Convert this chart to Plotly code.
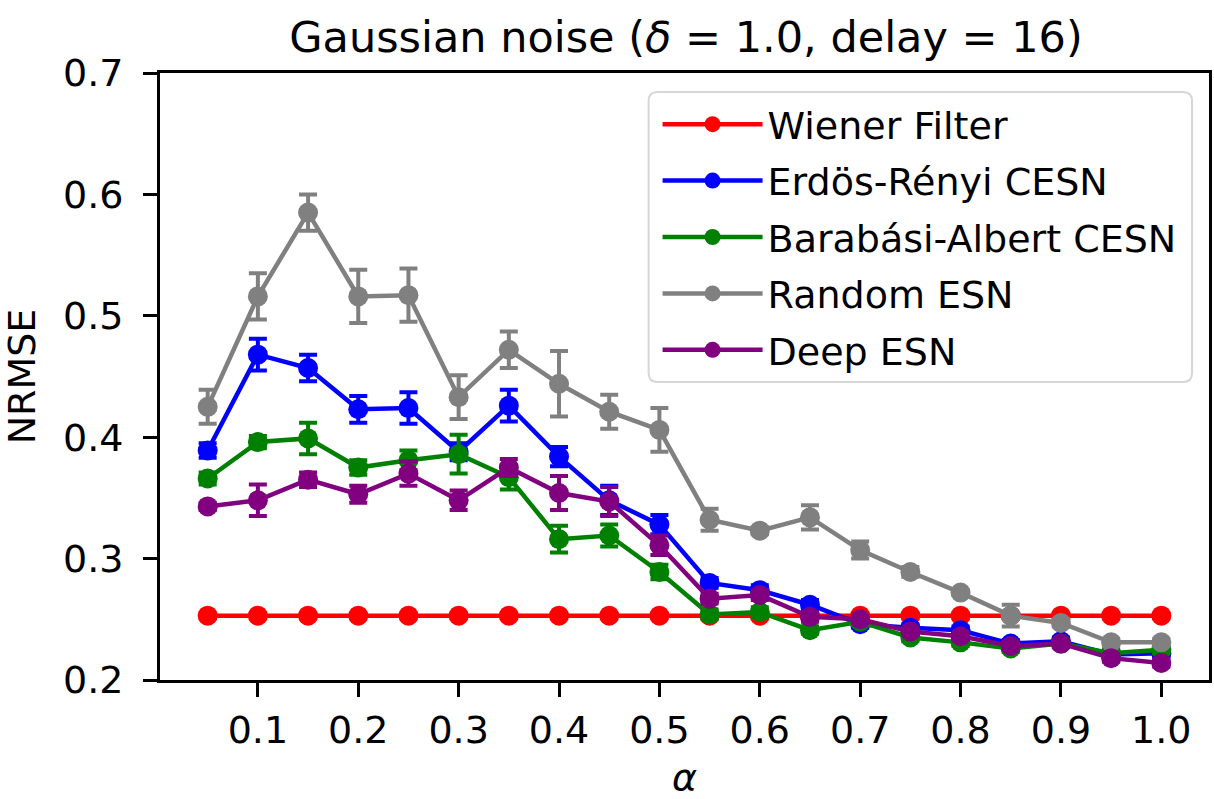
import plotly.graph_objects as go

alpha = [0.05, 0.10, 0.15, 0.20, 0.25, 0.30, 0.35, 0.40, 0.45, 0.50,
         0.55, 0.60, 0.65, 0.70, 0.75, 0.80, 0.85, 0.90, 0.95, 1.00]

wiener = [0.253, 0.253, 0.253, 0.253, 0.253, 0.253, 0.253, 0.253, 0.253, 0.253,
          0.253, 0.253, 0.253, 0.253, 0.253, 0.253, 0.253, 0.253, 0.253, 0.253]
wiener_err = [0, 0, 0, 0, 0, 0, 0, 0, 0, 0, 0, 0, 0, 0, 0, 0, 0, 0, 0, 0]

er_cesn = [0.389, 0.468, 0.457, 0.423, 0.424, 0.388, 0.426, 0.384, 0.348, 0.328,
           0.280, 0.274, 0.262, 0.246, 0.243, 0.241, 0.230, 0.232, 0.221, 0.222]
er_err = [0.006, 0.013, 0.011, 0.011, 0.013, 0.007, 0.013, 0.008, 0.012, 0.008,
          0.004, 0.004, 0.004, 0.003, 0.003, 0.003, 0.003, 0.003, 0.003, 0.003]

ba_cesn = [0.366, 0.396, 0.399, 0.375, 0.381, 0.386, 0.367, 0.316, 0.319, 0.289,
           0.254, 0.256, 0.241, 0.248, 0.235, 0.231, 0.226, 0.230, 0.222, 0.225]
ba_err = [0.005, 0.005, 0.013, 0.006, 0.008, 0.016, 0.010, 0.011, 0.009, 0.006,
          0.004, 0.004, 0.003, 0.003, 0.003, 0.003, 0.003, 0.003, 0.003, 0.003]

random_esn = [0.425, 0.516, 0.585, 0.516, 0.517, 0.433, 0.472, 0.444, 0.421, 0.406,
              0.332, 0.323, 0.334, 0.307, 0.289, 0.272, 0.253, 0.247, 0.231, 0.231]
random_err = [0.014, 0.019, 0.015, 0.022, 0.022, 0.018, 0.015, 0.027, 0.014, 0.018,
              0.009, 0.003, 0.010, 0.007, 0.004, 0.002, 0.009, 0.003, 0.003, 0.003]

deep_esn = [0.343, 0.348, 0.365, 0.353, 0.370, 0.348, 0.375, 0.354, 0.347, 0.311,
            0.267, 0.270, 0.252, 0.250, 0.240, 0.236, 0.228, 0.230, 0.218, 0.214]
deep_err = [0.003, 0.013, 0.006, 0.007, 0.010, 0.008, 0.007, 0.014, 0.012, 0.008,
            0.004, 0.004, 0.004, 0.003, 0.003, 0.003, 0.003, 0.003, 0.003, 0.003]

x_ticks = [0.1, 0.2, 0.3, 0.4, 0.5, 0.6, 0.7, 0.8, 0.9, 1.0]
x_ticktext = ["0.1", "0.2", "0.3", "0.4", "0.5", "0.6", "0.7", "0.8", "0.9", "1.0"]
y_ticks = [0.2, 0.3, 0.4, 0.5, 0.6, 0.7]
y_ticktext = ["0.2", "0.3", "0.4", "0.5", "0.6", "0.7"]

series = [
    ("Wiener Filter", wiener, wiener_err, "#ff0000"),
    ("Erdös-Rényi CESN", er_cesn, er_err, "#0000ff"),
    ("Barabási-Albert CESN", ba_cesn, ba_err, "#008000"),
    ("Random ESN", random_esn, random_err, "#808080"),
    ("Deep ESN", deep_esn, deep_err, "#800080"),
]

FONT = "DejaVu Sans"

# plot area geometry (pixels)
W, H = 1214, 799
L, R, T, B = 160, 1212, 73, 680
PW, PH = R - L, B - T

fig = go.Figure()
for i, (name, vals, errs, col) in enumerate(series):
    fig.add_trace(go.Scatter(
        x=alpha, y=vals, name=name, mode="lines+markers",
        legendgroup="g%d" % i,
        line=dict(color=col, width=4.5),
        marker=dict(color=col, size=20),
        error_y=dict(type="data", array=errs, visible=True, color=col,
                     thickness=4, width=9),
    ))

# rounded legend frame (paper coordinates)
bx0, bx1, by0, by1 = 650, 1195, 92, 382
rad = 9
def px(x):
    return (x - L) / PW
def py(y):
    return (B - y) / PH
path = (
    f"M {px(bx0 + rad)},{py(by0)} L {px(bx1 - rad)},{py(by0)} "
    f"Q {px(bx1)},{py(by0)} {px(bx1)},{py(by0 + rad)} "
    f"L {px(bx1)},{py(by1 - rad)} Q {px(bx1)},{py(by1)} {px(bx1 - rad)},{py(by1)} "
    f"L {px(bx0 + rad)},{py(by1)} Q {px(bx0)},{py(by1)} {px(bx0)},{py(by1 - rad)} "
    f"L {px(bx0)},{py(by0 + rad)} Q {px(bx0)},{py(by0)} {px(bx0 + rad)},{py(by0)} Z"
)

fig.update_layout(
    width=W, height=H,
    margin=dict(l=L, r=W - R, t=T, b=H - B),
    paper_bgcolor="white", plot_bgcolor="white",
    font=dict(family=FONT, size=38, color="black"),
    title=dict(text="Gaussian noise (<i>δ</i> = 1.0, delay = 16)",
               x=((L + R) / 2 / W), xanchor="center", y=1 - 37 / H, yanchor="middle",
               font=dict(family=FONT, size=43, color="black")),
    showlegend=True,
    legend=dict(x=px(659), xanchor="left",
                y=py(93), yanchor="top",
                bgcolor="rgba(0,0,0,0)", borderwidth=0,
                font=dict(family=FONT, size=38, color="black"),
                itemwidth=100, tracegroupgap=4),
    shapes=[dict(type="path", path=path, xref="paper", yref="paper",
                 line=dict(color="#d6d6d6", width=2),
                 fillcolor="rgba(255,255,255,0.8)", layer="above")],
)

fig.update_xaxes(
    range=[0.0025, 1.0475], tickvals=x_ticks, ticktext=x_ticktext,
    showline=True, linecolor="black", linewidth=3, mirror=True,
    ticks="outside", ticklen=14, tickwidth=3, tickcolor="black",
    showgrid=False, zeroline=False,
    tickfont=dict(family=FONT, size=38, color="black"),
    title=dict(text="<i>α</i>", font=dict(family=FONT, size=38, color="black"), standoff=16),
)
fig.update_yaxes(
    range=[0.2, 0.7], tickvals=y_ticks, ticktext=y_ticktext,
    showline=True, linecolor="black", linewidth=3, mirror=True,
    ticks="outside", ticklen=14, tickwidth=3, tickcolor="black",
    ticklabelstandoff=12,
    showgrid=False, zeroline=False,
    tickfont=dict(family=FONT, size=38, color="black"),
    title=dict(text="NRMSE", font=dict(family=FONT, size=38, color="black"), standoff=17),
)

fig.write_html("out.html")
